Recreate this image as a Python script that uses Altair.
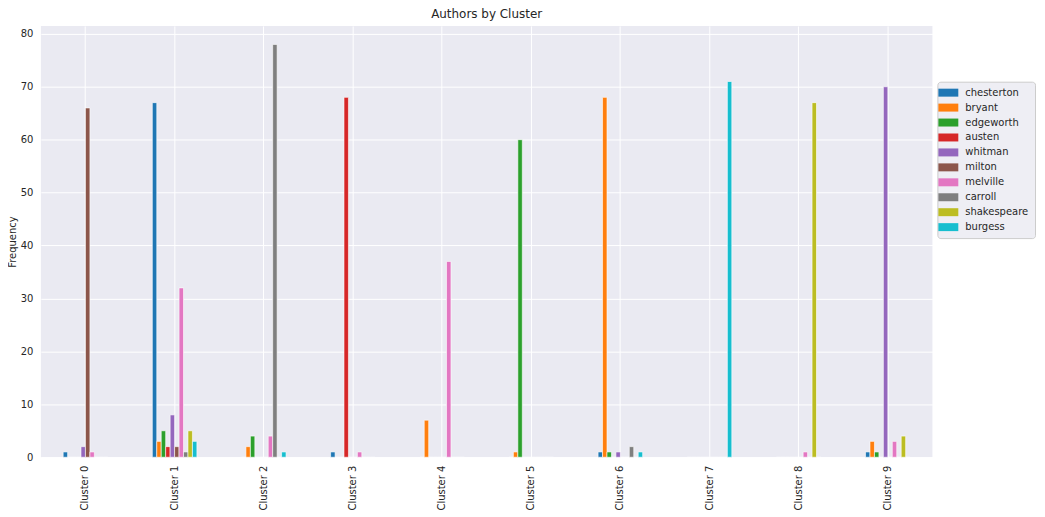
import altair as alt
import pandas as pd

clusters = [f"Cluster {i}" for i in range(10)]
authors = ["chesterton", "bryant", "edgeworth", "austen", "whitman",
           "milton", "melville", "carroll", "shakespeare", "burgess"]
colors = ["#1f77b4", "#ff7f0e", "#2ca02c", "#d62728", "#9467bd",
          "#8c564b", "#e377c2", "#7f7f7f", "#bcbd22", "#17becf"]

chesterton  = [1, 67, 0, 1, 0, 0, 1, 0, 0, 1]
bryant      = [0, 3, 2, 0, 7, 1, 68, 0, 0, 3]
edgeworth   = [0, 5, 4, 0, 0, 60, 1, 0, 0, 1]
austen      = [0, 2, 0, 68, 0, 0, 0, 0, 0, 0]
whitman     = [2, 8, 0, 0, 0, 0, 1, 0, 0, 70]
milton      = [66, 2, 0, 0, 0, 0, 0, 0, 0, 0]
melville    = [1, 32, 4, 1, 37, 0, 0, 0, 1, 3]
carroll     = [0, 1, 78, 0, 0, 0, 2, 0, 0, 0]
shakespeare = [0, 5, 0, 0, 0, 0, 0, 0, 67, 4]
burgess     = [0, 3, 1, 0, 0, 0, 1, 71, 0, 0]

series = [chesterton, bryant, edgeworth, austen, whitman,
          milton, melville, carroll, shakespeare, burgess]

rows = []
for a, vals in zip(authors, series):
    for c, v in zip(clusters, vals):
        rows.append({"cluster": c, "author": a, "freq": v})
df = pd.DataFrame(rows)

font = "DejaVu Sans"

chart = alt.Chart(df).mark_bar(stroke="white", strokeWidth=0.6).encode(
    x=alt.X("cluster:N", sort=clusters,
            scale=alt.Scale(paddingInner=0.5, paddingOuter=0.25),
            axis=alt.Axis(title=None, labelAngle=-90, labelAlign="right",
                          labelBaseline="middle", labelPadding=8, ticks=False,
                          domain=False, grid=True, gridColor="white",
                          labelColor="#262626", labelFontSize=10, labelFont=font)),
    xOffset=alt.XOffset("author:N", sort=authors),
    y=alt.Y("freq:Q", scale=alt.Scale(domain=[0, 81.5], nice=False),
            axis=alt.Axis(title="Frequency", values=list(range(0, 81, 10)),
                          ticks=False, domain=False, gridColor="white",
                          labelPadding=8, labelColor="#262626", labelFontSize=10,
                          labelFont=font, titleFont=font, titleFontSize=10,
                          titleFontWeight="normal", titleColor="#262626",
                          titlePadding=3)),
    color=alt.Color("author:N", sort=authors,
                    scale=alt.Scale(domain=authors, range=colors),
                    legend=alt.Legend(title=None, orient="none", legendX=900, legendY=56,
                                      symbolType="M-2.5,-1L2.5,-1L2.5,1L-2.5,1Z",
                                      symbolSize=64, symbolStrokeWidth=0,
                                      symbolOpacity=1,
                                      labelFont=font, labelFontSize=10,
                                      labelColor="#262626", rowPadding=5,
                                      fillColor="#EEEEF4", strokeColor="#CCCCCC",
                                      padding=6, cornerRadius=3, labelOffset=12)),
).properties(
    width=895, height=433,
    title=alt.Title("Authors by Cluster", font=font, fontSize=12,
                    fontWeight="normal", color="#262626", offset=5),
    autosize=alt.AutoSizeParams(type="none"),
    padding={"left": 33, "top": 17, "right": 105, "bottom": 57},
).configure_view(
    fill="#EAEAF2", stroke=None
)

chart.save("out.html", embed_options={"renderer": "svg", "actions": False})
